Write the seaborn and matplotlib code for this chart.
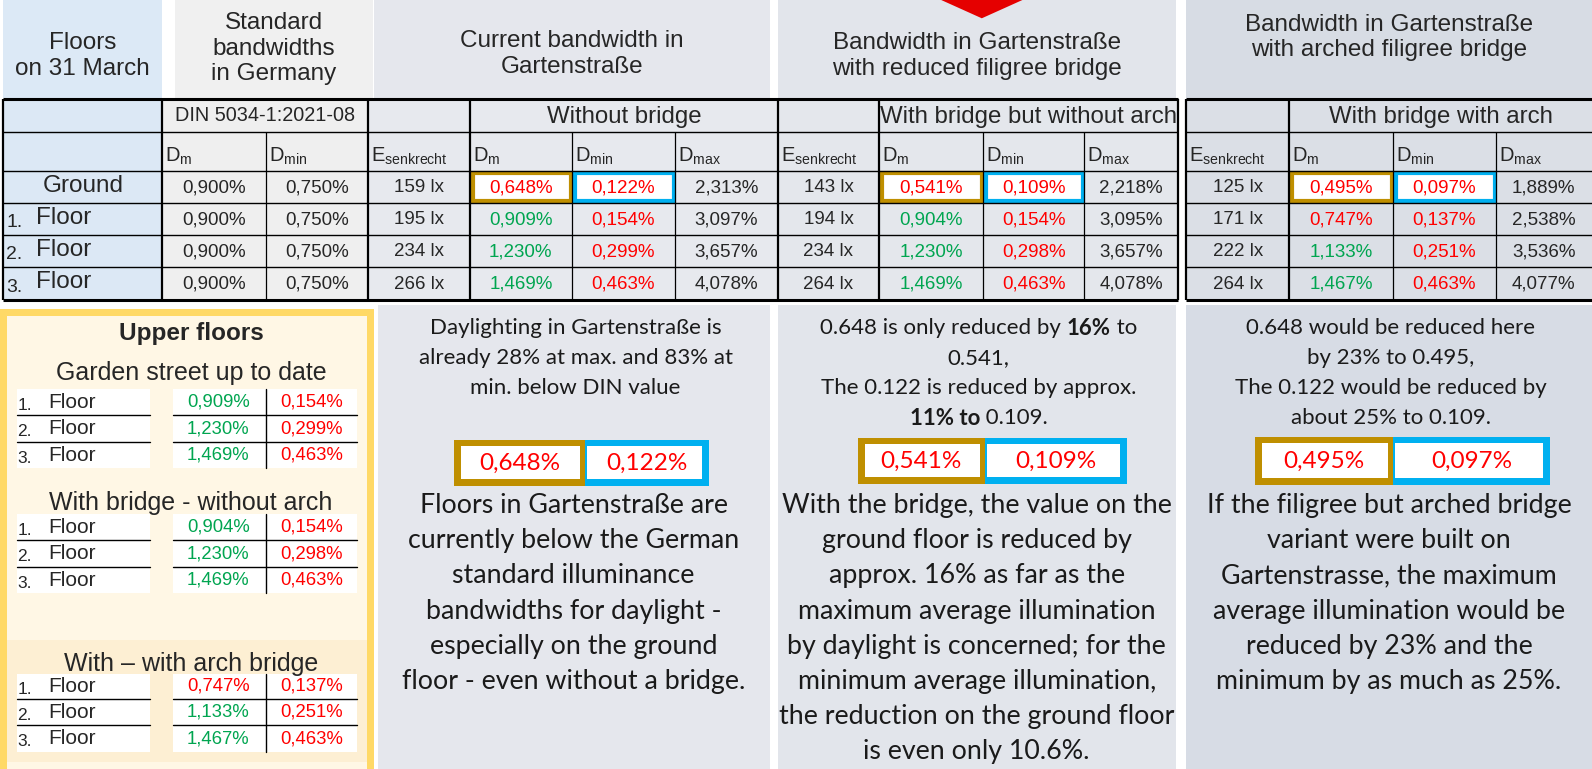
import matplotlib
matplotlib.use("Agg")
import matplotlib.pyplot as plt
from matplotlib.patches import Rectangle, Polygon
import seaborn as sns

# =========================================================================
# DATA
# =========================================================================
floor_nums = ["", "1.", "2.", "3."]
floor_names = ["Ground", "Floor", "Floor", "Floor"]

din_dm = [0.900, 0.900, 0.900, 0.900]
din_dmin = [0.750, 0.750, 0.750, 0.750]

current_e = [159, 195, 234, 266]
current_dm = [0.648, 0.909, 1.230, 1.469]
current_dmin = [0.122, 0.154, 0.299, 0.463]
current_dmax = [2.313, 3.097, 3.657, 4.078]

reduced_e = [143, 194, 234, 264]
reduced_dm = [0.541, 0.904, 1.230, 1.469]
reduced_dmin = [0.109, 0.154, 0.298, 0.463]
reduced_dmax = [2.218, 3.095, 3.657, 4.078]

arched_e = [125, 171, 222, 264]
arched_dm = [0.495, 0.747, 1.133, 1.467]
arched_dmin = [0.097, 0.137, 0.251, 0.463]
arched_dmax = [1.889, 2.538, 3.536, 4.077]

top_titles = ["Floors\non 31 March", "Standard\nbandwidths\nin Germany",
              "Current bandwidth in\nGartenstraße",
              "Bandwidth in Gartenstraße\nwith reduced filigree bridge",
              "Bandwidth in Gartenstraße\nwith arched filigree bridge"]
section_titles = ["Without bridge", "With bridge but without arch", "With bridge with arch"]
din_title = "DIN 5034-1:2021-08"

upper_titles = ["Garden street up to date", "With bridge - without arch", "With \u2013 with arch bridge"]

notes_top = [
    [[("Daylighting in Gartenstraße is", "normal")],
     [("already 28% at max. and 83% at", "normal")],
     [("min. below DIN value", "normal")]],
    [[("0.648 is only reduced by ", "normal"), ("16%", "bold"), (" to", "normal")],
     [("0.541,", "normal")],
     [("The 0.122 is reduced by approx.", "normal")],
     [("11% to", "bold"), (" 0.109.", "normal")]],
    [[("0.648 would be reduced here", "normal")],
     [("by 23% to 0.495,", "normal")],
     [("The 0.122 would be reduced by", "normal")],
     [("about 25% to 0.109.", "normal")]],
]
notes_body = [
    ["Floors in Gartenstraße are", "currently below the German", "standard illuminance",
     "bandwidths for daylight -", "especially on the ground", "floor - even without a bridge."],
    ["With the bridge, the value on the", "ground floor is reduced by",
     "approx. 16% as far as the", "maximum average illumination",
     "by daylight is concerned; for the", "minimum average illumination,",
     "the reduction on the ground floor", "is even only 10.6%."],
    ["If the filigree but arched bridge", "variant were built on",
     "Gartenstrasse, the maximum", "average illumination would be",
     "reduced by 23% and the", "minimum by as much as 25%."],
]

# =========================================================================
# STYLE / LAYOUT
# =========================================================================
sns.set_theme(style="white")
plt.rcParams["mathtext.default"] = "regular"
TAB_FONT = ["Liberation Sans", "DejaVu Sans"]
ARIAL = ["Liberation Sans", "DejaVu Sans"]
BODY = ["Lato", "DejaVu Sans"]

RED = "#ff0000"
GREEN = "#00a550"
GOLD = "#bf8f00"
BLUE = "#00b0f0"

W, H = 1568, 757
fig = plt.figure(figsize=(15.92, 7.69), dpi=100)
ax = fig.add_axes([0, 0, 1, 1])
ax.set_xlim(0, W)
ax.set_ylim(H, 0)
ax.axis("off")

ROWS = [97, 130, 168, 200, 231, 263, 295]
LEFT_COLS = [3, 160, 262, 362]
SECTION_COLS = [[362, 463, 563, 665, 766], [766, 866, 968, 1068, 1160], [1168, 1270, 1372, 1473, 1568]]
SECTION_BG = ["#e7e9ee", "#e4e7ec", "#dbdfe6"]
header_boxes = [(3, 160, "#dce9f6"), (172, 367, "#f0f0f0"), (368, 758, "#e5e7ed"),
                (766, 1158, "#e2e5eb"), (1168, 1568, "#d7dce4")]
header_text_y = [55, 48, 53, 55, 37]


def fmt(v):
    return f"{v:.3f}".replace(".", ",") + "%"


def rect(x0, y0, x1, y1, **kw):
    ax.add_patch(Rectangle((x0, y0), x1 - x0, y1 - y0, **kw))


# --- top header boxes ---
for (x0, x1, c), title, ty in zip(header_boxes, top_titles, header_text_y):
    rect(x0, 0, x1, 96, facecolor=c, edgecolor="none")
    ax.text((x0 + x1) / 2, ty, title, ha="center", va="center", fontsize=17.5,
            family=TAB_FONT, linespacing=1.2)

# red arrow at top of middle section
mid = (header_boxes[3][0] + header_boxes[3][1]) / 2 + 5
ax.add_patch(Polygon([(mid - 40, 0), (mid + 40, 0), (mid, 18)], closed=True,
                     facecolor="#e50000", edgecolor="none"))

# --- table: floor labels + DIN columns ---
for r in range(6):
    y0, y1 = ROWS[r], ROWS[r + 1]
    rect(LEFT_COLS[0], y0, LEFT_COLS[1], y1, facecolor="#dce8f5", edgecolor="none")
    rect(LEFT_COLS[1], y0, LEFT_COLS[3], y1, facecolor="#efefef", edgecolor="none")

ax.text((LEFT_COLS[1] + LEFT_COLS[3]) / 2, (ROWS[0] + ROWS[1]) / 2, din_title,
        ha="center", va="center", fontsize=14.3, family=TAB_FONT)
for i, lab in enumerate([r"D$_{m}$", r"D$_{min}$"]):
    ax.text(LEFT_COLS[1 + i] + 3, ROWS[2] - 4, lab, ha="left", va="bottom",
            fontsize=14.5, family=TAB_FONT)

for i in range(4):
    yc = (ROWS[2 + i] + ROWS[3 + i]) / 2
    if floor_nums[i]:
        ax.text(6, yc + 4, floor_nums[i], ha="left", va="center", fontsize=14, family=TAB_FONT)
        ax.text(35, yc - 1, floor_names[i], ha="left", va="center", fontsize=17.5, family=TAB_FONT)
    else:
        ax.text(82, yc - 1, floor_names[i], ha="center", va="center", fontsize=17.5, family=TAB_FONT)
    for j, vals in enumerate([din_dm, din_dmin]):
        ax.text((LEFT_COLS[1 + j] + LEFT_COLS[2 + j]) / 2, yc + 1, fmt(vals[i]),
                ha="center", va="center", fontsize=13.5, family=TAB_FONT)

# --- table: the three measured sections ---
sections = [(current_e, current_dm, current_dmin, current_dmax),
            (reduced_e, reduced_dm, reduced_dmin, reduced_dmax),
            (arched_e, arched_dm, arched_dmin, arched_dmax)]

for k, (e, dm, dmin, dmax) in enumerate(sections):
    xs = SECTION_COLS[k]
    rect(xs[0], ROWS[0], xs[-1], ROWS[-1], facecolor=SECTION_BG[k], edgecolor="none")
    ax.text((xs[1] + xs[4]) / 2, (ROWS[0] + ROWS[1]) / 2 + 2, section_titles[k],
            ha="center", va="center", fontsize=17.3, family=TAB_FONT)
    for c, lab in enumerate([r"E$_{senkrecht}$", r"D$_{m}$", r"D$_{min}$", r"D$_{max}$"]):
        ax.text(xs[c] + 3, ROWS[2] - 4, lab, ha="left", va="bottom", fontsize=14.5,
                family=TAB_FONT)
    for i in range(4):
        yc = (ROWS[2 + i] + ROWS[3 + i]) / 2 + 1
        if i == 0:
            rect(xs[1] + 3, ROWS[2] + 2, xs[2] - 1, ROWS[3] - 2, facecolor="white",
                 edgecolor=GOLD, linewidth=3)
            rect(xs[2] + 3, ROWS[2] + 2, xs[3] - 1, ROWS[3] - 2, facecolor="white",
                 edgecolor=BLUE, linewidth=3)
        ax.text((xs[0] + xs[1]) / 2, yc, f"{e[i]} lx", ha="center", va="center",
                fontsize=13.5, family=TAB_FONT)
        ax.text((xs[1] + xs[2]) / 2, yc, fmt(dm[i]), ha="center", va="center", fontsize=13.5,
                family=TAB_FONT, color=GREEN if dm[i] >= din_dm[i] else RED)
        ax.text((xs[2] + xs[3]) / 2, yc, fmt(dmin[i]), ha="center", va="center", fontsize=13.5,
                family=TAB_FONT, color=GREEN if dmin[i] >= din_dmin[i] else RED)
        ax.text((xs[3] + xs[4]) / 2, yc, fmt(dmax[i]), ha="center", va="center", fontsize=13.5,
                family=TAB_FONT)

# --- grid lines ---
for x0, x1 in [(LEFT_COLS[0], SECTION_COLS[1][-1]), (SECTION_COLS[2][0], SECTION_COLS[2][-1])]:
    for r, y in enumerate(ROWS):
        ax.plot([x0, x1], [y, y], color="black", lw=2.2 if r in (0, 6) else 1.0,
                solid_capstyle="butt")
thick_x = [3, 160, 362, 463, 766, 866, 1160, 1168, 1270]
all_x = LEFT_COLS + SECTION_COLS[0] + SECTION_COLS[1] + SECTION_COLS[2][:-1]
for x in sorted(set(all_x)):
    y_top = ROWS[1] if (x in (262, 563, 665, 968, 1068, 1372, 1473)) else ROWS[0]
    ax.plot([x, x], [y_top, ROWS[-1]], color="black", lw=1.6 if x in thick_x else 0.9,
            solid_capstyle="butt")

# =========================================================================
# LOWER LEFT: upper floors summary
# =========================================================================
rect(0, 304, 368, 757, facecolor="#ffd966", edgecolor="none")
rect(7, 311, 361, 757, facecolor="#fff7e5", edgecolor="none")
rect(7, 630, 361, 750, facecolor="#fdefd3", edgecolor="none")
ax.text(188, 328, "Upper floors", ha="center", va="center", fontsize=17.5,
        fontweight="bold", family=ARIAL)

upper_blocks = [(current_dm, current_dmin), (reduced_dm, reduced_dmin), (arched_dm, arched_dmin)]
block_title_y = [367, 495, 654]
block_rows = [[383, 409, 435, 461], [506, 532, 558, 584], [663, 688, 714, 740]]
for (dm, dmin), title, ty, edges in zip(upper_blocks, upper_titles, block_title_y, block_rows):
    ax.text(188, ty, title, ha="center", va="center", fontsize=18, family=ARIAL)
    rect(17, edges[0], 148, edges[-1], facecolor="white", edgecolor="none")
    rect(170, edges[0], 352, edges[-1], facecolor="white", edgecolor="none")
    for i in range(3):
        yc = (edges[i] + edges[i + 1]) / 2
        ax.text(17, yc + 3, floor_nums[i + 1], ha="left", va="center", fontsize=12.5, family=ARIAL)
        ax.text(48, yc, floor_names[i + 1], ha="left", va="center", fontsize=15, family=ARIAL)
        ax.text(215, yc, fmt(dm[i + 1]), ha="center", va="center", fontsize=13.3,
                family=ARIAL, color=GREEN if dm[i + 1] >= din_dm[i + 1] else RED)
        ax.text(307, yc, fmt(dmin[i + 1]), ha="center", va="center", fontsize=13.3,
                family=ARIAL, color=GREEN if dmin[i + 1] >= din_dmin[i + 1] else RED)
    for y in edges[1:3]:
        ax.plot([17, 148], [y, y], color="black", lw=1.0)
        ax.plot([170, 352], [y, y], color="black", lw=1.0)
    ax.plot([262, 262], [edges[0], edges[-1]], color="black", lw=1.0)

# =========================================================================
# LOWER RIGHT: three comment panels
# =========================================================================
panel_x = [(372, 758), (766, 1158), (1168, 1568)]
panel_bg = ["#e5e7ed", "#e2e5eb", "#d7dce5"]
box_x = [(447, 576, 698), (845, 970, 1110), (1236, 1372, 1527)]
box_y = [(433, 478), (431, 476), (430, 477)]
ground_pairs = [(current_dm[0], current_dmin[0]), (reduced_dm[0], reduced_dmin[0]),
                (arched_dm[0], arched_dmin[0])]
px_to_data = W / (15.92 * 100)
renderer = fig.canvas.get_renderer()


def mixed_line(xc, y, parts, size):
    texts = [ax.text(0, y, s, ha="left", va="center", fontsize=size, fontweight=wt,
                     family=BODY, color="#1a1a1a") for s, wt in parts]
    widths = [t.get_window_extent(renderer).width * px_to_data for t in texts]
    x = xc - sum(widths) / 2
    for t, w in zip(texts, widths):
        t.set_x(x)
        x += w


for k in range(3):
    x0, x1 = panel_x[k]
    xc = (x0 + x1) / 2
    rect(x0, 300, x1, 757, facecolor=panel_bg[k], edgecolor="none")
    for i, parts in enumerate(notes_top[k]):
        mixed_line(xc + 2, 323 + i * 29.5, parts, 16)
    bx0, bx1, bx2 = box_x[k]
    by0, by1 = box_y[k]
    rect(bx0, by0, bx1, by1, facecolor=GOLD, edgecolor="none")
    rect(bx1, by0, bx2, by1, facecolor=BLUE, edgecolor="none")
    rect(bx0 + 7, by0 + 6, bx1 - 5, by1 - 6, facecolor="white", edgecolor="none")
    rect(bx1 + 2, by0 + 6, bx2 - 7, by1 - 6, facecolor="white", edgecolor="none")
    dm0, dmin0 = ground_pairs[k]
    ax.text((bx0 + bx1) / 2, (by0 + by1) / 2 + 1, fmt(dm0), ha="center", va="center",
            fontsize=17.5, family=BODY, color=RED)
    ax.text((bx1 + bx2) / 2, (by0 + by1) / 2 + 1, fmt(dmin0), ha="center", va="center",
            fontsize=17.5, family=BODY, color=RED)
    for i, line in enumerate(notes_body[k]):
        ax.text(xc, 498 + i * 34.5, line, ha="center", va="center", fontsize=19.3,
                family=BODY, color="#1a1a1a")

fig.savefig("out.png", dpi=100)
